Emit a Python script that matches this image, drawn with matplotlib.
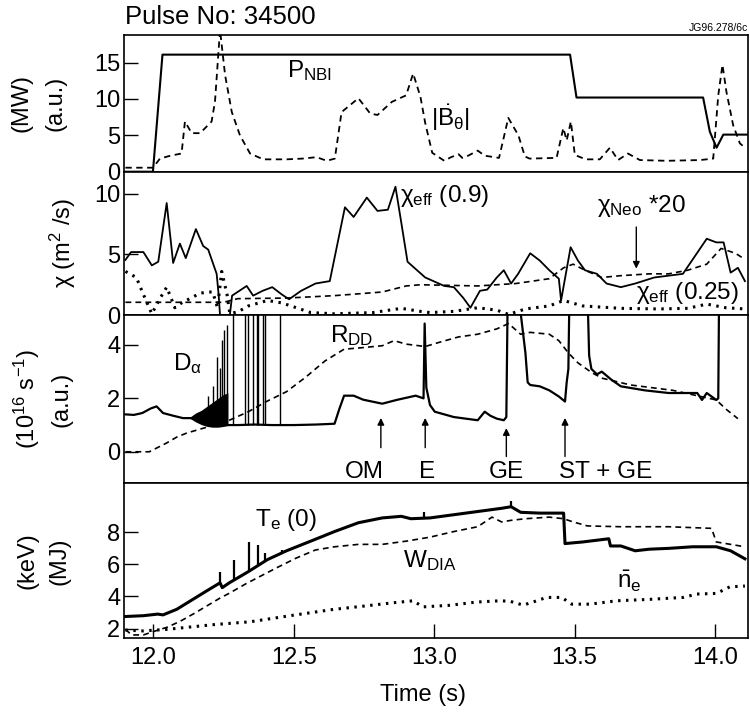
import numpy as np
import matplotlib
matplotlib.use('Agg')
import matplotlib.pyplot as plt
from matplotlib import font_manager

# pick a Helvetica-like face
names = {f.name for f in font_manager.fontManager.ttflist}
base = 'Liberation Sans' if 'Liberation Sans' in names else 'DejaVu Sans'
plt.rcParams['font.family'] = [base, 'DejaVu Sans']
plt.rcParams['mathtext.fontset'] = 'custom'
plt.rcParams['mathtext.rm'] = base
plt.rcParams['mathtext.it'] = base
plt.rcParams['mathtext.bf'] = base + ':bold'
plt.rcParams['mathtext.sf'] = base

# ---- panel 1: NBI power and |dB/dt| ----
pnbi_t = [11.90, 11.998, 12.032, 13.484, 13.507, 13.958, 13.982, 14.006, 14.030, 14.116]
pnbi_v = [0.0, 0.0, 16.1, 16.1, 10.2, 10.2, 5.5, 3.3, 5.1, 5.1]

bdot_t = [11.90, 11.998, 12.023, 12.06, 12.10, 12.112, 12.136, 12.166, 12.207, 12.219,
          12.237, 12.255, 12.279, 12.308, 12.344, 12.391, 12.474, 12.53, 12.581, 12.617,
          12.646, 12.67, 12.73, 12.772, 12.798, 12.849, 12.90, 12.925, 12.951, 12.968,
          12.993, 13.036, 13.06, 13.087, 13.10, 13.121, 13.155, 13.18, 13.231, 13.264,
          13.30, 13.323, 13.34, 13.436, 13.46, 13.472, 13.487, 13.501, 13.54, 13.59,
          13.626, 13.655, 13.69, 13.733, 13.828, 13.947, 13.994, 14.012, 14.027, 14.041,
          14.065, 14.089, 14.11]
bdot_v = [0.55, 0.55, 1.8, 2.2, 2.5, 6.9, 5.3, 5.3, 6.9, 9.6,
          19.5, 13.3, 8.2, 5.0, 2.5, 1.7, 1.7, 1.8, 2.0, 1.5,
          1.8, 8.2, 10.1, 8.0, 7.8, 9.6, 10.5, 13.5, 10.3, 6.7,
          2.6, 1.5, 2.0, 2.4, 1.9, 2.2, 2.9, 2.2, 1.9, 7.4,
          5.0, 2.1, 1.8, 1.9, 6.0, 4.3, 6.9, 2.3, 1.7, 1.7,
          3.3, 1.6, 2.5, 1.6, 1.5, 1.6, 1.8, 10.5, 14.7, 11.0,
          6.4, 3.9, 3.2]

# ---- panel 2: transport coefficients ----
chi09_t = [11.90, 11.92, 11.964, 11.994, 12.017, 12.047, 12.07, 12.094, 12.115, 12.151,
           12.177, 12.195, 12.225, 12.232, 12.237, 12.272, 12.28, 12.332, 12.355, 12.389,
           12.423, 12.457, 12.483, 12.526, 12.577, 12.628, 12.682, 12.713, 12.76, 12.798,
           12.835, 12.862, 12.883, 12.905, 12.934, 12.968, 13.036, 13.07, 13.104, 13.129,
           13.163, 13.189, 13.223, 13.248, 13.274, 13.299, 13.342, 13.376, 13.41, 13.444,
           13.452, 13.486, 13.512, 13.537, 13.58, 13.614, 13.665, 13.716, 13.784, 13.835,
           13.886, 13.971, 14.005, 14.031, 14.056, 14.082, 14.107]
chi09_v = [4.55, 5.2, 5.2, 4.1, 4.4, 9.25, 4.3, 5.9, 4.7, 7.1,
           5.7, 5.4, 3.4, 1.7, 0.0, 0.0, 1.6, 2.4, 1.6, 2.0,
           2.3, 1.7, 1.3, 2.0, 2.6, 2.8, 8.9, 8.1, 9.7, 8.6,
           8.7, 10.6, 7.6, 4.4, 3.8, 3.1, 2.4, 2.3, 1.4, 0.6,
           2.0, 2.1, 3.1, 3.7, 2.6, 3.4, 5.1, 4.5, 3.7, 3.0,
           1.2, 5.6, 4.5, 3.7, 3.4, 2.6, 2.3, 2.6, 3.1, 3.25,
           3.4, 6.3, 6.0, 6.0, 3.5, 3.9, 2.8]

chineo_t = [11.90, 12.25, 12.30, 12.474, 12.645, 12.815, 12.90, 12.951, 13.155, 13.291,
            13.41, 13.461, 13.495, 13.537, 13.597, 13.665, 13.767, 13.835, 13.903, 13.971,
            14.022, 14.073, 14.107]
chineo_v = [1.05, 1.05, 1.35, 1.4, 1.6, 1.9, 2.4, 2.5, 2.4, 2.6,
            3.0, 3.9, 4.2, 3.7, 3.1, 3.25, 3.4, 3.4, 3.7, 4.2,
            5.5, 5.1, 4.6]

chi025_t = [11.90, 11.939, 11.964, 11.994, 12.024, 12.047, 12.066, 12.076, 12.10, 12.166,
            12.195, 12.211, 12.228, 12.243, 12.262, 12.272, 12.304, 12.338, 12.406, 12.457,
            12.509, 12.56, 12.645, 12.781, 12.883, 12.951, 12.985, 13.07, 13.155, 13.223,
            13.265, 13.325, 13.41, 13.461, 13.529, 13.665, 13.801, 13.903, 13.971, 14.039,
            14.107]
chi025_v = [3.6, 3.1, 1.7, 0.1, 1.4, 2.3, 1.2, 0.6, 1.0, 1.8,
            1.9, 1.9, 0.6, 3.6, 1.7, 0.1, 0.3, 0.75, 1.2, 1.0,
            0.6, 0.2, 0.1, 0.2, 0.55, 0.3, 0.2, 0.3, 0.6, 0.4,
            0.05, 0.5, 0.75, 1.2, 0.75, 0.55, 0.5, 0.55, 0.9, 0.6,
            0.5]

# ---- panel 3: D-alpha and neutron rate ----
da_t = [11.90, 11.93, 11.96, 11.99, 12.011, 12.034, 12.07, 12.105, 12.14, 12.20,
        12.265, 12.30, 12.36, 12.42, 12.50, 12.58, 12.645, 12.662, 12.679, 12.713,
        12.747, 12.815, 12.866, 12.934, 12.962, 12.966, 12.972, 12.985, 13.002, 13.07,
        13.155, 13.18, 13.20, 13.223, 13.248, 13.257, 13.262, 13.305, 13.308, 13.325,
        13.333, 13.342, 13.376, 13.41, 13.444, 13.466, 13.472, 13.478, 13.482, 13.546,
        13.552, 13.56, 13.58, 13.597, 13.631, 13.665, 13.75, 13.835, 13.937, 13.954,
        13.971, 14.005, 14.012, 14.015]
da_v = [1.40, 1.38, 1.45, 1.62, 1.70, 1.45, 1.35, 1.26, 1.26, 1.2,
        1.0, 1.0, 1.02, 1.0, 1.0, 1.02, 1.05, 1.6, 2.1, 2.1,
        1.95, 1.8, 1.94, 2.1, 2.0, 4.8, 2.4, 1.75, 1.5, 1.3,
        1.18, 1.5, 1.35, 1.24, 1.18, 1.3, 6.0, 6.0, 5.2, 3.7,
        2.6, 2.5, 2.45, 2.3, 2.07, 1.88, 2.6, 3.1, 6.0, 6.0,
        3.6, 3.1, 2.9, 3.0, 2.7, 2.45, 2.3, 2.2, 2.2, 1.94,
        2.2, 1.94, 2.0, 6.0]

# ELM burst envelope before the first large spikes
band_t = [12.13, 12.15, 12.17, 12.19, 12.21, 12.23, 12.25, 12.265]
band_lo = [1.25, 1.12, 1.02, 0.95, 0.92, 0.92, 0.95, 0.98]
band_hi = [1.3, 1.45, 1.55, 1.7, 1.85, 2.0, 2.15, 2.2]

elm_t = [12.195, 12.213, 12.227, 12.237, 12.243, 12.251, 12.261, 12.282, 12.327, 12.338,
         12.355, 12.367, 12.372, 12.389, 12.398, 12.452]
elm_peak = [2.1, 2.46, 3.56, 3.13, 4.2, 4.56, 4.74, 6.0, 6.0, 6.0,
            6.0, 6.0, 6.0, 6.0, 6.0, 6.0]

rdd_t = [11.90, 11.985, 12.015, 12.047, 12.083, 12.118, 12.18, 12.253, 12.338, 12.406,
         12.474, 12.543, 12.611, 12.679, 12.747, 12.815, 12.857, 12.90, 12.968, 13.019,
         13.087, 13.155, 13.223, 13.265, 13.308, 13.342, 13.41, 13.444, 13.478, 13.512,
         13.563, 13.60, 13.70, 13.85, 14.005, 14.039, 14.082]
rdd_v = [0.0, 0.0, 0.16, 0.33, 0.55, 0.7, 0.89, 1.1, 1.5, 1.9,
         2.25, 2.8, 3.4, 3.84, 3.9, 3.97, 4.16, 4.03, 3.94, 4.1,
         4.3, 4.4, 4.6, 4.8, 4.4, 4.47, 4.4, 4.16, 3.7, 3.33,
         2.95, 2.75, 2.5, 2.3, 1.94, 1.6, 1.24]

events = ['OM', 'E', 'GE', 'ST + GE']
event_t = [12.81, 12.968, 13.257, 13.466]

# ---- panel 4: Te(0), W_DIA, line density ----
te_t = [11.90, 11.964, 12.015, 12.034, 12.083, 12.134, 12.185, 12.237, 12.245, 12.27,
        12.304, 12.338, 12.406, 12.474, 12.56, 12.645, 12.73, 12.815, 12.883, 12.917,
        12.985, 13.07, 13.155, 13.24, 13.274, 13.308, 13.376, 13.461, 13.466, 13.529,
        13.622, 13.628, 13.665, 13.716, 13.767, 13.835, 13.92, 14.005, 14.056, 14.107]
te_v = [2.75, 2.8, 2.9, 2.85, 3.2, 3.75, 4.3, 4.85, 4.55, 4.85,
        5.2, 5.55, 6.3, 6.85, 7.45, 8.05, 8.6, 8.9, 9.0, 8.85,
        8.9, 9.1, 9.3, 9.5, 9.6, 9.25, 9.2, 9.2, 7.3, 7.4,
        7.6, 7.15, 7.15, 6.85, 6.95, 7.0, 7.1, 7.1, 6.85, 6.35]
te_spike_t = [12.237, 12.287, 12.342, 12.372, 12.398, 12.457, 12.964, 13.274]
te_spike_top = [5.55, 6.3, 7.4, 7.2, 6.7, 6.9, 9.3, 9.95]

wdia_t = [11.90, 11.922, 11.964, 11.998, 12.052, 12.10, 12.146, 12.237, 12.27, 12.33,
          12.44, 12.509, 12.577, 12.645, 12.73, 12.815, 12.90, 12.985, 13.07, 13.155,
          13.206, 13.24, 13.274, 13.325, 13.41, 13.461, 13.495, 13.546, 13.665, 13.835,
          13.988, 14.005, 14.056, 14.107]
wdia_v = [1.95, 1.6, 1.6, 1.8, 2.1, 2.5, 2.95, 3.9, 4.2, 4.8,
          5.8, 6.4, 6.9, 7.1, 7.25, 7.25, 7.45, 7.7, 8.05, 8.35,
          8.95, 8.65, 8.75, 8.85, 8.95, 8.85, 8.65, 8.4, 8.35, 8.35,
          8.25, 7.4, 7.25, 7.1]

ne_t = [11.90, 11.964, 12.049, 12.134, 12.219, 12.344, 12.498, 12.64, 12.75, 12.85,
        12.925, 12.96, 13.056, 13.15, 13.234, 13.27, 13.317, 13.36, 13.40, 13.454,
        13.49, 13.555, 13.65, 13.768, 13.887, 13.935, 14.006, 14.053, 14.107]
ne_v = [1.9, 1.85, 1.95, 2.1, 2.25, 2.42, 2.83, 3.19, 3.4, 3.6,
        3.73, 3.35, 3.45, 3.65, 3.73, 3.7, 3.46, 3.7, 3.94, 3.94,
        3.52, 3.52, 3.73, 3.82, 3.94, 4.15, 4.19, 4.6, 4.65]

W, H = 750, 714
fig = plt.figure(figsize=(7.5, 7.14), dpi=100)
left, right = 124.3, 748.3
edges = [35, 171.7, 315, 483.3, 638.3]
axes = []
for i in range(4):
    ax = fig.add_axes([left / W, 1 - edges[i + 1] / H,
                       (right - left) / W, (edges[i + 1] - edges[i]) / H])
    ax.set_xlim(11.896, 14.119)
    ax.tick_params(axis='y', direction='in', length=10, width=1, labelsize=17, pad=3)
    ax.tick_params(axis='x', direction='in', length=10, width=1, labelsize=17, pad=6)
    for s in ax.spines.values():
        s.set_linewidth(1.2)
    if i < 3:
        ax.tick_params(axis='x', bottom=False, labelbottom=False)
    axes.append(ax)
ax1, ax2, ax3, ax4 = axes

dash = (0, (3.5, 2.5))
dots = (0, (0.8, 1.8))
fs = 17.5

# panel 1
ax1.plot(pnbi_t, pnbi_v, color='k', lw=1.5)
ax1.plot(bdot_t, bdot_v, color='k', lw=1.3, ls=dash)
ax1.set_ylim(0, 18.8)
ax1.set_yticks([0, 5, 10, 15])
ax1.text(12.474, 12.97, r'P$_{\rm NBI}$', fontsize=fs, va='baseline')
ax1.text(12.99, 6.3, r'$|\dot{\rm B}_{\theta}|$', fontsize=fs, va='baseline')

# panel 2
ax2.plot(chi09_t, chi09_v, color='k', lw=1.3)
ax2.plot(chineo_t, chineo_v, color='k', lw=1.2, ls=dash)
ax2.plot(chi025_t, chi025_v, color='k', lw=2.2, ls=dots)
ax2.set_ylim(0, 11.84)
ax2.set_yticks([0, 5, 10])
ax2.text(12.878, 9.3, r'$\chi_{\rm eff}$ (0.9)', fontsize=fs, va='baseline')
ax2.text(13.58, 8.5, r'$\chi_{\rm Neo}$ *20', fontsize=fs, va='baseline')
ax2.text(13.72, 1.3, r'$\chi_{\rm eff}$ (0.25)', fontsize=fs, va='baseline')
ax2.annotate('', xy=(13.72, 3.6), xytext=(13.72, 7.5),
             arrowprops=dict(arrowstyle='-|>', color='k', lw=1, mutation_scale=10))

# panel 3
ax3.plot(da_t, da_v, color='k', lw=1.6)
ax3.fill_between(band_t, band_lo, band_hi, color='k', lw=0)
ax3.vlines(elm_t, np.interp(elm_t, da_t, da_v), elm_peak, color='k', lw=1)
ax3.plot(rdd_t, rdd_v, color='k', lw=1.2, ls=dash)
ax3.set_ylim(-1.18, 5.12)
ax3.set_yticks([0, 2, 4])
ax3.text(12.07, 3.05, r'D$_{\alpha}$', fontsize=fs, va='baseline')
ax3.text(12.63, 4.1, r'R$_{\rm DD}$', fontsize=fs, va='baseline')
tails = [0.05, 0.05, -0.28, -0.28]
tips = [1.37, 1.37, 0.99, 1.37]
for name, t, y0, y1 in zip(events, event_t, tails, tips):
    ax3.annotate('', xy=(t, y1), xytext=(t, y0),
                 arrowprops=dict(arrowstyle='-|>', color='k', lw=1, mutation_scale=10))
ax3.text(12.75, -0.97, events[0], fontsize=fs, ha='center', va='baseline')
ax3.text(12.976, -0.97, events[1], fontsize=fs, ha='center', va='baseline')
ax3.text(13.257, -0.97, events[2], fontsize=fs, ha='center', va='baseline')
ax3.text(13.444, -0.97, events[3], fontsize=fs, ha='left', va='baseline')

# panel 4
ax4.plot(te_t, te_v, color='k', lw=2.2)
ax4.vlines(te_spike_t, np.interp(te_spike_t, te_t, te_v), te_spike_top, color='k', lw=1.6)
ax4.plot(wdia_t, wdia_v, color='k', lw=1.2, ls=dash)
ax4.plot(ne_t, ne_v, color='k', lw=2.2, ls=dots)
ax4.set_ylim(1.39, 11.06)
ax4.set_yticks([2, 4, 6, 8])
ax4.set_xticks([12.0, 12.5, 13.0, 13.5, 14.0])
ax4.set_xticklabels(['12.0', '12.5', '13.0', '13.5', '14.0'])
ax4.text(12.36, 8.4, r'T$_{\rm e}$ (0)', fontsize=fs, va='baseline')
ax4.text(12.89, 5.85, r'W$_{\rm DIA}$', fontsize=fs, va='baseline')
ax4.text(13.65, 4.5, r'$\bar{\rm n}_{\rm e}$', fontsize=fs, va='baseline')

# axis titles
def ylab(x, yc, s):
    fig.text(x / W, 1 - yc / H, s, rotation=90, ha='center', va='center', fontsize=17)

ylab(22, 103, '(MW)')
ylab(56, 103, '(a.u.)')
ylab(63, 243, r'$\chi$ (m$^{2}$ /s)')
ylab(27, 399, r'(10$^{16}$ s$^{-1}$)')
ylab(62, 399, '(a.u.)')
ylab(28, 561, '(keV)')
ylab(60, 561, '(MJ)')

fig.text(422.5 / W, 1 - 695 / H, 'Time (s)', ha='center', va='center', fontsize=17)
fig.text(125 / W, 1 - 17 / H, 'Pulse No: 34500', ha='left', va='center', fontsize=18.5)
fig.text(748 / W, 1 - 28 / H, 'JG96.278/6c', ha='right', va='center', fontsize=7.5)

fig.savefig('out.png', dpi=100)
